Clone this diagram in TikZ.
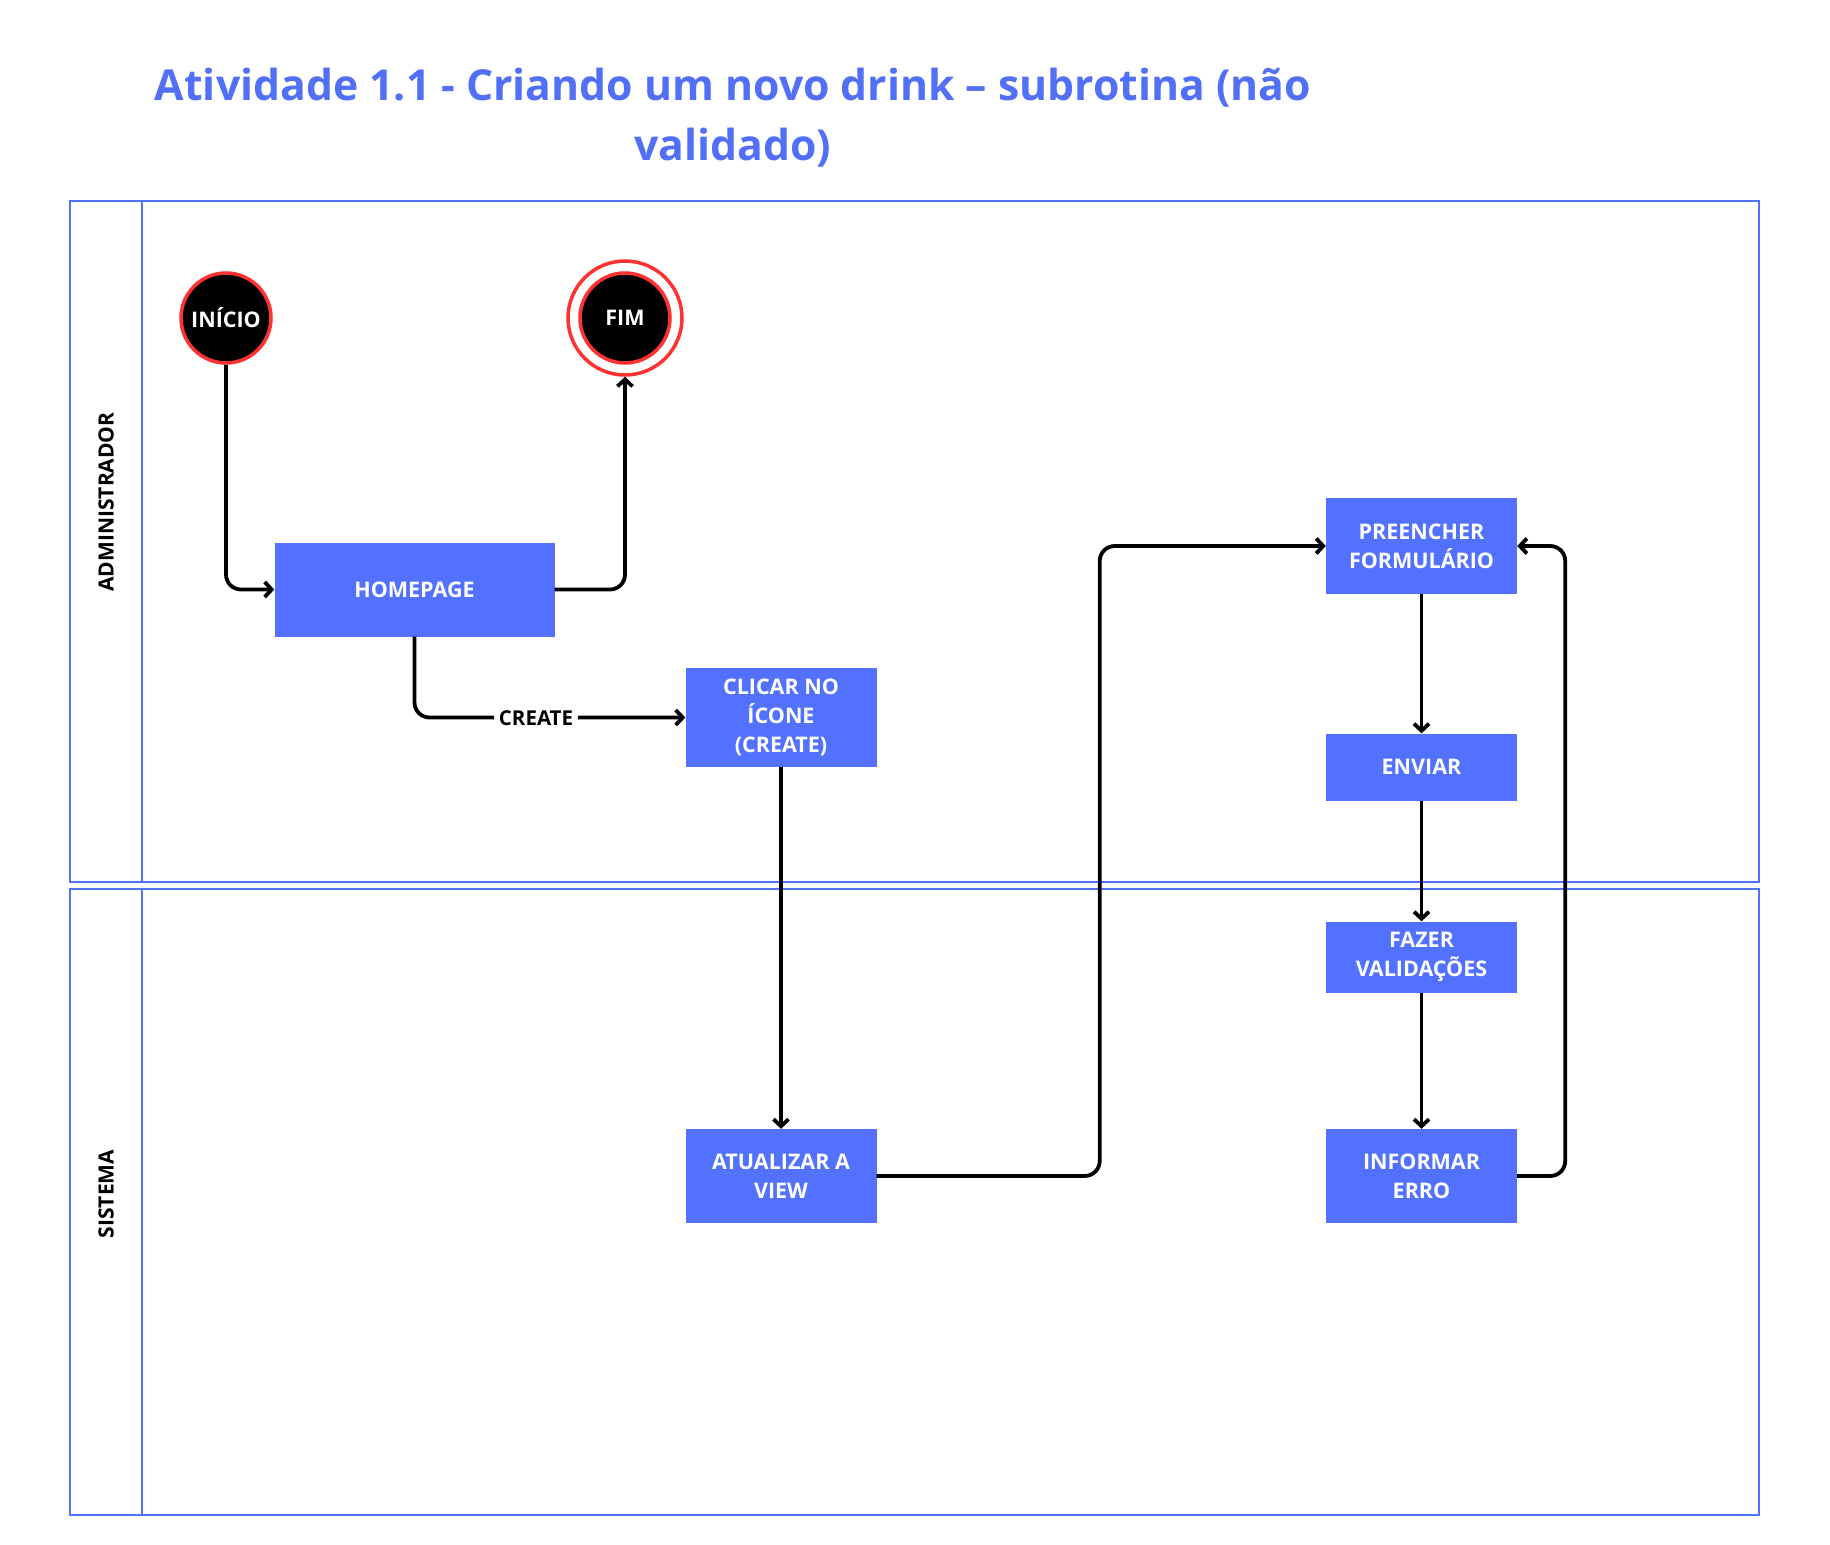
\documentclass[tikz,border=0pt]{standalone}
\usepackage{fontspec}
\setmainfont{Open Sans}
\usetikzlibrary{arrows.meta,positioning}
\definecolor{boxblue}{HTML}{5271FF}
\definecolor{titleblue}{HTML}{5170F7}
\definecolor{ringred}{HTML}{FF3131}
\tikzset{
  actblk/.style={rectangle,fill=boxblue,text=white,minimum width=191pt,minimum height=94pt,align=center,
    font=\fontsize{21.5}{29}\selectfont\bfseries},
  startnode/.style={circle,fill=black,draw=ringred,line width=3.5pt,minimum size=90pt,inner sep=0pt,text=white,
    font=\fontsize{21.5}{25}\selectfont\bfseries},
  endring/.style={circle,draw=ringred,line width=3.5pt,minimum size=114pt,inner sep=0pt},
  lane/.style={draw=boxblue,line width=1.8pt},
  lanelbl/.style={rotate=90,font=\fontsize{21}{25}\selectfont\bfseries},
  arr/.style={-{Straight Barb[length=7pt,width=15pt]},line width=3.8pt,rounded corners=15pt},
  lbl/.style={fill=white,inner sep=5pt,font=\fontsize{20.5}{24}\selectfont\bfseries}
}
\begin{document}
\begin{tikzpicture}[x=1pt,y=-1pt]
  \useasboundingbox[fill=white] (0,0) rectangle (1830,1544);
  % title
  \node[text=titleblue,align=center,font=\fontsize{42.7}{60}\selectfont\bfseries] (title) at (733,117.5)
    {Atividade 1.1 - Criando um novo drink -- subrotina (não\\validado)};
  % lanes
  \draw[lane] (70,201) rectangle (1759,882);
  \draw[lane] (142,201) -- (142,882);
  \draw[lane] (70,889) rectangle (1759,1515);
  \draw[lane] (142,889) -- (142,1515);
  \node[lanelbl] (admin) at (106,502) {ADMINISTRADOR};
  \node[lanelbl] (sistema) at (106,1194) {SISTEMA};

  \node[startnode] (inicio) at (226,318) {INÍCIO};
  \node[endring] (fimring) at (625,318) {};
  \node[startnode] (fim) at (625,318) {FIM};
  \node[actblk,minimum width=280pt] (home) at (414.5,589.5) {HOMEPAGE};
  \node[actblk,minimum height=99pt] (clicar) at (781,717.5) {CLICAR NO\\ÍCONE\\(CREATE)};
  \node[actblk] (atual) at (781,1176) {ATUALIZAR A\\VIEW};
  \node[actblk,minimum height=96pt] (preen) at (1421.5,546) {PREENCHER\\FORMULÁRIO};
  \node[actblk,minimum height=67pt] (enviar) at (1421.5,767) {ENVIAR};
  \node[actblk,minimum height=71pt] (valid) at (1421.5,957) {FAZER\\VALIDAÇÕES};
  \node[actblk] (erro) at (1421.5,1176) {INFORMAR\\ERRO};

  \draw[arr] (inicio.south) |- (home.west);
  \draw[arr] (home.east) -| (fimring.south);
  \draw[arr] (home.south) |- (clicar.west);
  \node[lbl] (create) at (536,718) {CREATE};
  \draw[arr] (clicar.south) -- (atual.north);
  \draw[arr] (atual.east) -- ++(223,0) |- (preen.west);
  \draw[arr] (preen.south) -- (enviar.north);
  \draw[arr] (enviar.south) -- (valid.north);
  \draw[arr] (valid.south) -- (erro.north);
  \draw[arr] (erro.east) -- ++(48,0) |- (preen.east);
\end{tikzpicture}
\end{document}
